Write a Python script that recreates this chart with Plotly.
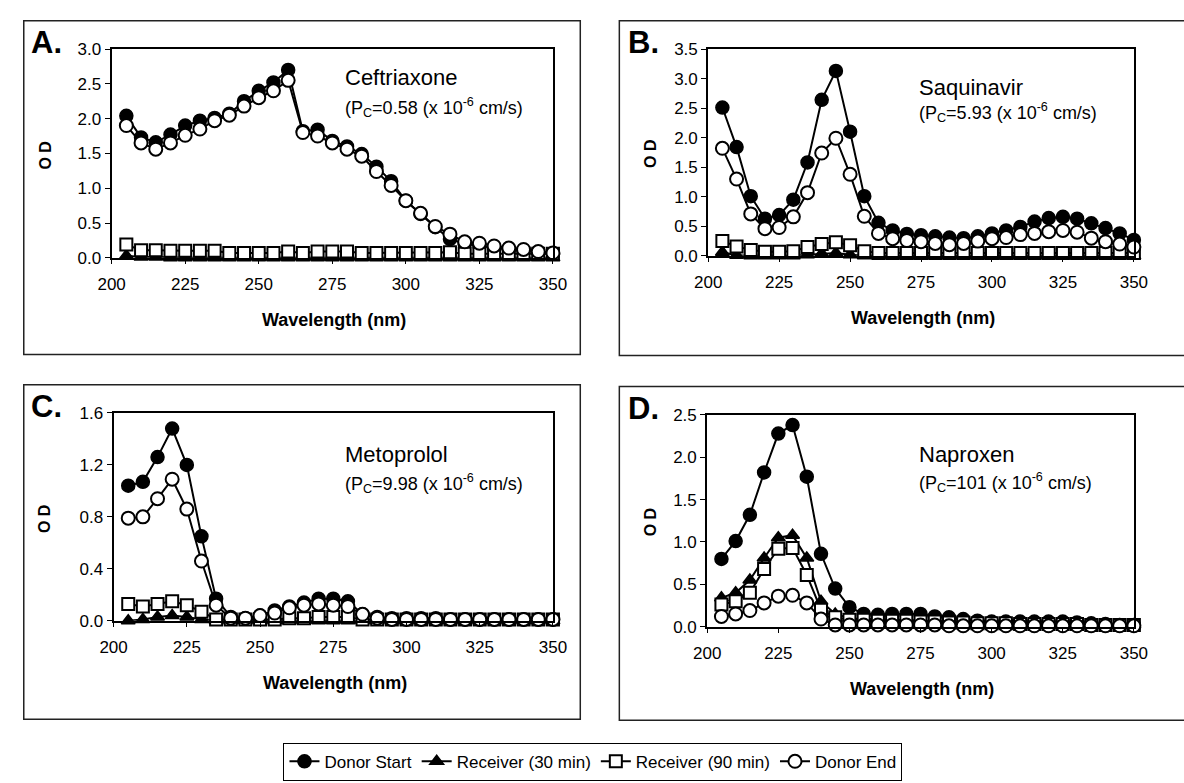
import plotly.graph_objects as go

W, H = 1184, 783

wavelength = [205, 210, 215, 220, 225, 230, 235, 240, 245, 250,
              255, 260, 265, 270, 275, 280, 285, 290, 295, 300,
              305, 310, 315, 320, 325, 330, 335, 340, 345, 350]

# Panel A: Ceftriaxone
A_start = [2.04, 1.73, 1.66, 1.77, 1.90, 1.97, 2.01, 2.07, 2.25, 2.40,
           2.52, 2.70, 1.82, 1.84, 1.68, 1.60, 1.49, 1.31, 1.10, 0.82,
           0.63, 0.44, 0.27, 0.20, 0.17, 0.14, 0.12, 0.10, 0.08, 0.06]
A_r30 = [0.03, 0.01, 0.01, 0.00, 0.00, 0.00, 0.00, 0.00, 0.00, 0.00,
         0.00, 0.00, 0.00, 0.00, 0.00, 0.00, 0.00, 0.00, 0.00, 0.00,
         0.00, 0.00, 0.00, 0.00, 0.00, 0.00, 0.00, 0.00, 0.00, 0.00]
A_r90 = [0.19, 0.11, 0.11, 0.10, 0.10, 0.10, 0.10, 0.07, 0.07, 0.07,
         0.07, 0.09, 0.07, 0.09, 0.09, 0.09, 0.07, 0.07, 0.07, 0.07,
         0.07, 0.07, 0.08, 0.06, 0.06, 0.06, 0.06, 0.06, 0.06, 0.06]
A_end = [1.90, 1.65, 1.56, 1.65, 1.76, 1.85, 1.97, 2.05, 2.18, 2.30,
         2.40, 2.55, 1.80, 1.75, 1.65, 1.56, 1.46, 1.24, 1.04, 0.82,
         0.64, 0.45, 0.34, 0.23, 0.21, 0.17, 0.14, 0.12, 0.09, 0.07]

# Panel B: Saquinavir
B_start = [2.51, 1.84, 1.01, 0.63, 0.69, 0.95, 1.58, 2.64, 3.13, 2.10,
           1.01, 0.56, 0.43, 0.37, 0.35, 0.33, 0.31, 0.30, 0.33, 0.38,
           0.43, 0.49, 0.58, 0.64, 0.66, 0.63, 0.55, 0.47, 0.38, 0.27]
B_r30 = [0.06, 0.01, 0.00, 0.00, 0.00, 0.00, 0.02, 0.04, 0.05, 0.02,
         0.00, 0.00, 0.00, 0.00, 0.00, 0.00, 0.00, 0.00, 0.00, 0.00,
         0.00, 0.00, 0.00, 0.00, 0.00, 0.00, 0.00, 0.00, 0.00, 0.00]
B_r90 = [0.25, 0.16, 0.10, 0.07, 0.07, 0.08, 0.15, 0.20, 0.23, 0.18,
         0.08, 0.05, 0.05, 0.05, 0.05, 0.05, 0.05, 0.05, 0.05, 0.05,
         0.05, 0.05, 0.05, 0.05, 0.05, 0.05, 0.05, 0.05, 0.05, 0.05]
B_end = [1.82, 1.30, 0.71, 0.46, 0.48, 0.66, 1.07, 1.74, 1.99, 1.38,
         0.67, 0.38, 0.29, 0.26, 0.24, 0.21, 0.19, 0.21, 0.25, 0.29,
         0.31, 0.36, 0.38, 0.41, 0.43, 0.40, 0.30, 0.24, 0.20, 0.15]

# Panel C: Metoprolol
C_start = [1.04, 1.07, 1.26, 1.48, 1.20, 0.65, 0.17, 0.03, 0.02, 0.04,
           0.08, 0.11, 0.14, 0.17, 0.17, 0.15, 0.05, 0.03, 0.02, 0.02,
           0.02, 0.02, 0.01, 0.01, 0.01, 0.01, 0.01, 0.01, 0.01, 0.01]
C_r30 = [0.00, 0.01, 0.03, 0.04, 0.03, 0.01, 0.00, 0.00, 0.00, 0.00,
         0.00, 0.00, 0.00, 0.00, 0.00, 0.00, 0.00, 0.00, 0.00, 0.00,
         0.00, 0.00, 0.00, 0.00, 0.00, 0.00, 0.00, 0.00, 0.00, 0.00]
C_r90 = [0.13, 0.11, 0.13, 0.15, 0.12, 0.07, 0.01, 0.01, 0.01, 0.01,
         0.01, 0.02, 0.02, 0.03, 0.03, 0.03, 0.01, 0.01, 0.01, 0.01,
         0.01, 0.01, 0.01, 0.01, 0.01, 0.01, 0.01, 0.01, 0.01, 0.01]
C_end = [0.79, 0.80, 0.94, 1.09, 0.86, 0.46, 0.12, 0.02, 0.02, 0.04,
         0.06, 0.10, 0.12, 0.13, 0.12, 0.11, 0.05, 0.02, 0.01, 0.01,
         0.01, 0.01, 0.01, 0.01, 0.01, 0.01, 0.01, 0.01, 0.01, 0.01]

# Panel D: Naproxen
D_start = [0.80, 1.01, 1.32, 1.82, 2.28, 2.38, 1.77, 0.86, 0.45, 0.23,
           0.15, 0.14, 0.15, 0.15, 0.15, 0.12, 0.11, 0.09, 0.07, 0.06,
           0.06, 0.06, 0.06, 0.06, 0.06, 0.05, 0.04, 0.03, 0.02, 0.02]
D_r30 = [0.34, 0.40, 0.55, 0.81, 1.05, 1.08, 0.81, 0.30, 0.15, 0.10,
         0.09, 0.09, 0.08, 0.08, 0.07, 0.07, 0.06, 0.05, 0.05, 0.04,
         0.04, 0.04, 0.04, 0.03, 0.03, 0.03, 0.03, 0.02, 0.02, 0.02]
D_r90 = [0.26, 0.30, 0.40, 0.68, 0.92, 0.93, 0.61, 0.20, 0.11, 0.08,
         0.08, 0.07, 0.07, 0.07, 0.06, 0.06, 0.05, 0.05, 0.04, 0.04,
         0.04, 0.03, 0.03, 0.03, 0.03, 0.03, 0.02, 0.02, 0.02, 0.02]
D_end = [0.12, 0.15, 0.19, 0.28, 0.36, 0.37, 0.28, 0.09, 0.02, 0.02,
         0.02, 0.02, 0.02, 0.02, 0.02, 0.02, 0.01, 0.01, 0.01, 0.01,
         0.01, 0.01, 0.01, 0.01, 0.01, 0.01, 0.01, 0.01, 0.01, 0.01]

panel_letters = ["A.", "B.", "C.", "D."]
drug_names = ["Ceftriaxone", "Saquinavir", "Metoprolol", "Naproxen"]
pc_values = ["0.58", "5.93", "9.98", "101"]
y_max = [3.0, 3.5, 1.6, 2.5]
y_step = [0.5, 0.5, 0.4, 0.5]
x_ticks = [200, 225, 250, 275, 300, 325, 350]
series_names = ["Donor Start", "Receiver (30 min)", "Receiver (90 min)", "Donor End"]

panels = [
    [A_start, A_r30, A_r90, A_end],
    [B_start, B_r30, B_r90, B_end],
    [C_start, C_r30, C_r90, C_end],
    [D_start, D_r30, D_r90, D_end],
]

# layout geometry (pixels)
plot_px = [(100, 552, 41, 255), (711, 1147, 41, 253),
           (102, 552, 414, 627), (710, 1147, 416, 633)]
box_px = [(10, 580, 12, 354), (620, 1200, 12, 355),
          (10, 580, 385, 728), (620, 1200, 387, 729)]
letter_px = [(15, 34), (627, 34), (15, 407), (627, 409)]
od_px = [32, 652, 32, 652]
name_px = [(337, 70), (925, 80), (337, 457), (925, 457)]
pc_px = [(337, 101), (925, 106), (337, 486), (925, 485)]

def px(x):
    return x / W

def py(y):
    return 1 - y / H

styles = [
    dict(symbol="circle", color="black", line=dict(color="black", width=1.5)),
    dict(symbol="triangle-up", color="black", line=dict(color="black", width=1.5)),
    dict(symbol="square", color="white", line=dict(color="black", width=2)),
    dict(symbol="circle", color="white", line=dict(color="black", width=2)),
]
sizes = [13, 12, 12, 13]

FONT = "Liberation Sans, Arial, Helvetica, sans-serif"

fig = go.Figure()
layout = dict(
    width=W, height=H, margin=dict(l=0, r=0, t=0, b=0),
    paper_bgcolor="white", plot_bgcolor="white",
    font=dict(family=FONT, color="black"),
    showlegend=True,
    legend=dict(orientation="h", x=px(276), y=py(752), xanchor="left", yanchor="top",
                bordercolor="black", borderwidth=1, bgcolor="white",
                font=dict(size=17, family=FONT, color="black"),
                itemwidth=30, tracegroupgap=0),
)

annotations = []
shapes = []
for i, data in enumerate(panels):
    k = "" if i == 0 else str(i + 1)
    xa, ya = "x" + k, "y" + k
    for j, vals in enumerate(data):
        st = styles[j]
        fig.add_trace(go.Scatter(
            x=wavelength, y=vals, mode="lines+markers", name=series_names[j],
            xaxis=xa, yaxis=ya, showlegend=(i == 0), cliponaxis=False,
            line=dict(color="black", width=2),
            marker=dict(symbol=st["symbol"], color=st["color"], size=sizes[j], line=st["line"]),
        ))
    x0, x1, y0, y1 = plot_px[i]
    tickvals = [round(t * y_step[i], 2) for t in range(int(round(y_max[i] / y_step[i])) + 1)]
    layout["xaxis" + k] = dict(
        domain=[px(x0), px(x1)], anchor=ya, range=[200, 350], tickvals=x_ticks,
        showline=True, mirror=True, linecolor="black", linewidth=2,
        ticks="outside", ticklen=4, tickwidth=1, tickcolor="black",
        ticklabelstandoff=6,
        showgrid=False, zeroline=False,
        tickfont=dict(size=17, family=FONT, color="black"),
    )
    layout["yaxis" + k] = dict(
        domain=[py(y1), py(y0)], anchor=xa, range=[0, y_max[i]], tickvals=tickvals,
        tickformat=".1f", showline=True, mirror=True, linecolor="black", linewidth=2,
        ticks="outside", ticklen=5, tickwidth=1, tickcolor="black",
        showgrid=False, zeroline=False,
        tickfont=dict(size=17, family=FONT, color="black"),
    )
    # outer box
    bx0, bx1, by0, by1 = box_px[i]
    shapes.append(dict(type="rect", xref="paper", yref="paper",
                       x0=px(bx0), x1=px(bx1), y0=py(by1), y1=py(by0),
                       line=dict(color="#222222", width=1.5), fillcolor="rgba(0,0,0,0)", layer="below"))
    lx, ly = letter_px[i]
    annotations.append(dict(text="<b>" + panel_letters[i] + "</b>", x=px(lx), y=py(ly),
                            xref="paper", yref="paper", xanchor="left", yanchor="middle",
                            showarrow=False, font=dict(size=31, family=FONT, color="black")))
    annotations.append(dict(text="<b>O D</b>", x=px(od_px[i]), y=py((y0 + y1) / 2 + 2),
                            xref="paper", yref="paper", xanchor="center", yanchor="middle",
                            textangle=-90, showarrow=False,
                            font=dict(size=16, family=FONT, color="black")))
    annotations.append(dict(text="<b>Wavelength (nm)</b>", x=px((x0 + x1) / 2 + 2), y=py(y1 + 64),
                            xref="paper", yref="paper", xanchor="center", yanchor="middle",
                            showarrow=False, font=dict(size=18, family=FONT, color="black")))
    nx, ny = name_px[i]
    annotations.append(dict(text=drug_names[i], x=px(nx), y=py(ny),
                            xref="paper", yref="paper", xanchor="left", yanchor="middle",
                            showarrow=False, font=dict(size=22, family=FONT, color="black")))
    cx, cy = pc_px[i]
    annotations.append(dict(text="(P<sub>C</sub>=" + pc_values[i] + " (x 10<sup>-6</sup> cm/s)",
                            x=px(cx), y=py(cy),
                            xref="paper", yref="paper", xanchor="left", yanchor="middle",
                            showarrow=False, font=dict(size=18, family=FONT, color="black")))

layout["annotations"] = annotations
layout["shapes"] = shapes
fig.update_layout(**layout)
fig.write_html("out.html")
